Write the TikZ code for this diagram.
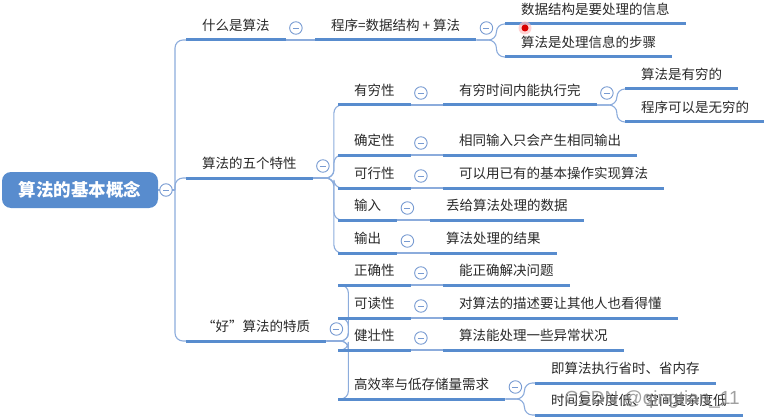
\documentclass[tikz,border=0pt]{standalone}
\usepackage{fontspec}
\setmainfont{Noto Sans CJK SC}
\newfontfamily\wmfont{Liberation Sans}
\definecolor{ulc}{RGB}{88,140,206}
\definecolor{connc}{RGB}{140,172,220}
\definecolor{foldc}{RGB}{120,155,210}
\definecolor{rootc}{RGB}{88,140,206}
\definecolor{txt}{RGB}{40,40,40}
\tikzset{
  topic/.style={anchor=south west, inner xsep=16pt, inner ysep=6.5pt, text height=10pt, text depth=3pt,
    font=\fontsize{13.5}{15}\selectfont, text=txt},
  ul/.style={draw=ulc, line width=3pt},
  conn/.style={draw=connc, line width=1.1pt, rounded corners=8pt},
  fold/.style={circle, draw=foldc, line width=0.9pt, fill=white, minimum size=12.5pt, inner sep=0pt,
    path picture={\draw[foldc, line width=0.9pt] ([xshift=-3pt]path picture bounding box.center) -- ([xshift=3pt]path picture bounding box.center);}},
  rootbox/.style={fill=rootc, rounded corners=9pt, minimum width=156pt, minimum height=36pt,
    text=white, font=\fontsize{17.5}{19}\selectfont\bfseries},
}
\begin{document}
\begin{tikzpicture}[x=1pt,y=-1pt]
\useasboundingbox (0,0) rectangle (764,420);
% root
\node[rootbox] (root) at (80,190) {算法的基本概念};
\coordinate (rj) at (175,190);
% level 1
\node[topic] (t1) at (186,40) {什么是算法};
\node[topic] (t2) at (186,178) {算法的五个特性};
\node[topic] (t3) at (186,341) {“好”算法的特质};
% level 2
\node[topic] (a1) at (315,40) {程序=数据结构 + 算法};
\node[topic] (a11) at (505,24) {数据结构是要处理的信息};
\node[topic] (a12) at (505,57) {算法是处理信息的步骤};
\node[topic] (b1) at (338,105) {有穷性};
\node[topic] (b2) at (338,155) {确定性};
\node[topic] (b3) at (338,188) {可行性};
\node[topic] (b4) at (338,220) {输入};
\node[topic] (b5) at (338,253) {输出};
\node[topic] (b1a) at (443,105) {有穷时间内能执行完};
\node[topic] (b1a1) at (625,89) {算法是有穷的};
\node[topic] (b1a2) at (625,122) {程序可以是无穷的};
\node[topic] (b2a) at (443,155) {相同输入只会产生相同输出};
\node[topic] (b3a) at (443,188) {可以用已有的基本操作实现算法};
\node[topic] (b4a) at (430,220) {丢给算法处理的数据};
\node[topic] (b5a) at (430,253) {算法处理的结果};
\node[topic] (c1) at (338,285) {正确性};
\node[topic] (c2) at (338,318) {可读性};
\node[topic] (c3) at (338,350) {健壮性};
\node[topic] (c4) at (338,399) {高效率与低存储量需求};
\node[topic] (c1a) at (443,285) {能正确解决问题};
\node[topic] (c2a) at (443,318) {对算法的描述要让其他人也看得懂};
\node[topic] (c3a) at (443,350) {算法能处理一些异常状况};
\node[topic] (c4a) at (535,383) {即算法执行省时、省内存};
\node[topic] (c4b) at (535,415) {时间复杂度低、空间复杂度低};
% connectors
\draw[conn] (root.east) -- (rj);
\foreach \n in {t1,t2,t3} \draw[conn] (rj) |- (\n.south west);
\draw[conn] (t1.south east) -- (a1.south west);
\foreach \n in {a11,a12} \draw[conn] (a1.south east) -- ++(20,0) |- (\n.south west);
\foreach \n in {b1,b2,b3,b4,b5} \draw[conn] (t2.south east) -- ++(21,0) |- (\n.south west);
\foreach \n in {c1,c2,c3,c4} \draw[conn] (t3.south east) -- ++(22,0) |- (\n.south west);
\draw[conn] (b1.south east) -- (b1a.south west);
\draw[conn] (b2.south east) -- (b2a.south west);
\draw[conn] (b3.south east) -- (b3a.south west);
\draw[conn] (b4.south east) -- (b4a.south west);
\draw[conn] (b5.south east) -- (b5a.south west);
\foreach \n in {b1a1,b1a2} \draw[conn] (b1a.south east) -- ++(20,0) |- (\n.south west);
\draw[conn] (c1.south east) -- (c1a.south west);
\draw[conn] (c2.south east) -- (c2a.south west);
\draw[conn] (c3.south east) -- (c3a.south west);
\foreach \n in {c4a,c4b} \draw[conn] (c4.south east) -- ++(19,0) |- (\n.south west);
% underlines
\foreach \n in {t1,t2,t3,a1,a11,a12,b1,b2,b3,b4,b5,b1a,b1a1,b1a2,b2a,b3a,b4a,b5a,c1,c2,c3,c4,c1a,c2a,c3a,c4a,c4b}
  \draw[ul] (\n.south west) -- (\n.south east);
% fold circles
\node[fold] (froot) at (166,190) {};
\foreach \n in {t1,t2,t3,a1,b1,b2,b3,b4,b5,b1a,c1,c2,c3,c4}
  \node[fold] (f\n) at ([xshift=10pt,yshift=12pt]\n.south east) {};
% pointer dot
\node[circle, fill=red!25, minimum size=13pt, inner sep=0pt, opacity=0.7] (halo) at (525,28) {};
\node[circle, fill=red!85!black, minimum size=7pt, inner sep=0pt] (dot) at (525,28) {};
% watermark
\node[font=\wmfont\fontsize{19}{21}\selectfont, text=gray, opacity=0.75, anchor=west] (wm) at (561,400) {CSDN @qingtian\_11};
\end{tikzpicture}
\end{document}
